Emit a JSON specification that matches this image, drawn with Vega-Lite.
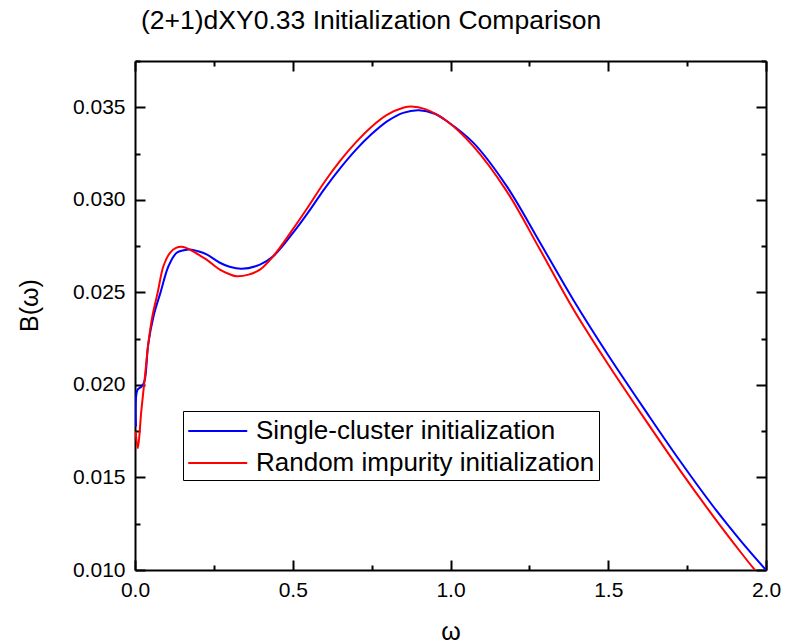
{
  "$schema": "https://vega.github.io/schema/vega-lite/v6.json",
  "width": 631,
  "height": 509,
  "autosize": {"type": "none"},
  "padding": {"left": 135, "top": 61, "right": 26, "bottom": 72},
  "background": "white",
  "config": {
    "view": {"stroke": null},
    "font": "Liberation Sans",
    "axis": {
      "domainColor": "black", "domainWidth": 2,
      "tickColor": "black", "tickWidth": 2,
      "labelColor": "black", "labelFont": "Liberation Sans", "labelFontSize": 21,
      "titleFont": "Liberation Sans", "titleFontSize": 25, "titleFontWeight": "normal", "titleColor": "black",
      "grid": false
    },
    "legend": {
      "orient": "none", "legendX": 48, "legendY": 350,
      "symbolType": "M-1,0H3", "symbolSize": 870, "symbolStrokeWidth": 2,
      "labelFont": "Liberation Sans", "labelFontSize": 26, "labelColor": "black", "labelLimit": 0,
      "strokeColor": "black", "fillColor": "white", "padding": 4, "labelOffset": 37, "rowPadding": 3
    }
  },
  "title": {
    "text": "(2+1)dXY0.33 Initialization Comparison",
    "font": "Liberation Sans", "fontSize": 26.5, "fontWeight": "normal", "color": "black",
    "anchor": "start", "frame": "group", "dx": 6, "baseline": "alphabetic", "offset": -5
  },
  "data": {"values": [
    {"series": "Single-cluster initialization", "w": 0.003, "B": 0.01775},
    {"series": "Single-cluster initialization", "w": 0.008, "B": 0.01974},
    {"series": "Single-cluster initialization", "w": 0.02, "B": 0.0199},
    {"series": "Single-cluster initialization", "w": 0.03, "B": 0.0202},
    {"series": "Single-cluster initialization", "w": 0.042, "B": 0.0222},
    {"series": "Single-cluster initialization", "w": 0.06, "B": 0.0238},
    {"series": "Single-cluster initialization", "w": 0.081, "B": 0.025},
    {"series": "Single-cluster initialization", "w": 0.106, "B": 0.02641},
    {"series": "Single-cluster initialization", "w": 0.132, "B": 0.02714},
    {"series": "Single-cluster initialization", "w": 0.155, "B": 0.02728},
    {"series": "Single-cluster initialization", "w": 0.174, "B": 0.02732},
    {"series": "Single-cluster initialization", "w": 0.2, "B": 0.02722},
    {"series": "Single-cluster initialization", "w": 0.227, "B": 0.02705},
    {"series": "Single-cluster initialization", "w": 0.269, "B": 0.0266},
    {"series": "Single-cluster initialization", "w": 0.3, "B": 0.02638},
    {"series": "Single-cluster initialization", "w": 0.338, "B": 0.02627},
    {"series": "Single-cluster initialization", "w": 0.396, "B": 0.0265},
    {"series": "Single-cluster initialization", "w": 0.438, "B": 0.02695},
    {"series": "Single-cluster initialization", "w": 0.5, "B": 0.0282},
    {"series": "Single-cluster initialization", "w": 0.55, "B": 0.02935},
    {"series": "Single-cluster initialization", "w": 0.6, "B": 0.03058},
    {"series": "Single-cluster initialization", "w": 0.65, "B": 0.0317},
    {"series": "Single-cluster initialization", "w": 0.7, "B": 0.0327},
    {"series": "Single-cluster initialization", "w": 0.75, "B": 0.03355},
    {"series": "Single-cluster initialization", "w": 0.8, "B": 0.03425},
    {"series": "Single-cluster initialization", "w": 0.85, "B": 0.0347},
    {"series": "Single-cluster initialization", "w": 0.9, "B": 0.03484},
    {"series": "Single-cluster initialization", "w": 0.95, "B": 0.03465},
    {"series": "Single-cluster initialization", "w": 0.988, "B": 0.03426},
    {"series": "Single-cluster initialization", "w": 1.072, "B": 0.03309},
    {"series": "Single-cluster initialization", "w": 1.178, "B": 0.03074},
    {"series": "Single-cluster initialization", "w": 1.284, "B": 0.02768},
    {"series": "Single-cluster initialization", "w": 1.389, "B": 0.0246},
    {"series": "Single-cluster initialization", "w": 1.5, "B": 0.0216},
    {"series": "Single-cluster initialization", "w": 1.622, "B": 0.0185},
    {"series": "Single-cluster initialization", "w": 1.727, "B": 0.0159},
    {"series": "Single-cluster initialization", "w": 1.833, "B": 0.01343},
    {"series": "Single-cluster initialization", "w": 1.918, "B": 0.01162},
    {"series": "Single-cluster initialization", "w": 2.0, "B": 0.01},
    {"series": "Random impurity initialization", "w": 0.002, "B": 0.01748},
    {"series": "Random impurity initialization", "w": 0.009, "B": 0.01658},
    {"series": "Random impurity initialization", "w": 0.02, "B": 0.0186},
    {"series": "Random impurity initialization", "w": 0.03, "B": 0.0202},
    {"series": "Random impurity initialization", "w": 0.042, "B": 0.0222},
    {"series": "Random impurity initialization", "w": 0.055, "B": 0.0237},
    {"series": "Random impurity initialization", "w": 0.072, "B": 0.025},
    {"series": "Random impurity initialization", "w": 0.09, "B": 0.02641},
    {"series": "Random impurity initialization", "w": 0.111, "B": 0.02714},
    {"series": "Random impurity initialization", "w": 0.13, "B": 0.0274},
    {"series": "Random impurity initialization", "w": 0.148, "B": 0.02746},
    {"series": "Random impurity initialization", "w": 0.175, "B": 0.0273},
    {"series": "Random impurity initialization", "w": 0.2, "B": 0.02705},
    {"series": "Random impurity initialization", "w": 0.227, "B": 0.02677},
    {"series": "Random impurity initialization", "w": 0.269, "B": 0.02623},
    {"series": "Random impurity initialization", "w": 0.3, "B": 0.02598},
    {"series": "Random impurity initialization", "w": 0.322, "B": 0.02587},
    {"series": "Random impurity initialization", "w": 0.36, "B": 0.02596},
    {"series": "Random impurity initialization", "w": 0.396, "B": 0.02623},
    {"series": "Random impurity initialization", "w": 0.438, "B": 0.02695},
    {"series": "Random impurity initialization", "w": 0.5, "B": 0.0284},
    {"series": "Random impurity initialization", "w": 0.55, "B": 0.02965},
    {"series": "Random impurity initialization", "w": 0.6, "B": 0.03095},
    {"series": "Random impurity initialization", "w": 0.65, "B": 0.0321},
    {"series": "Random impurity initialization", "w": 0.7, "B": 0.0331},
    {"series": "Random impurity initialization", "w": 0.75, "B": 0.03395},
    {"series": "Random impurity initialization", "w": 0.8, "B": 0.0346},
    {"series": "Random impurity initialization", "w": 0.85, "B": 0.03497},
    {"series": "Random impurity initialization", "w": 0.875, "B": 0.03504},
    {"series": "Random impurity initialization", "w": 0.92, "B": 0.0349},
    {"series": "Random impurity initialization", "w": 0.988, "B": 0.03426},
    {"series": "Random impurity initialization", "w": 1.072, "B": 0.0329},
    {"series": "Random impurity initialization", "w": 1.178, "B": 0.03047},
    {"series": "Random impurity initialization", "w": 1.284, "B": 0.0273},
    {"series": "Random impurity initialization", "w": 1.389, "B": 0.0241},
    {"series": "Random impurity initialization", "w": 1.5, "B": 0.0211},
    {"series": "Random impurity initialization", "w": 1.622, "B": 0.018},
    {"series": "Random impurity initialization", "w": 1.727, "B": 0.0154},
    {"series": "Random impurity initialization", "w": 1.833, "B": 0.0129},
    {"series": "Random impurity initialization", "w": 1.918, "B": 0.011},
    {"series": "Random impurity initialization", "w": 1.96, "B": 0.0101},
    {"series": "Random impurity initialization", "w": 2.0, "B": 0.0093}
  ]},
  "layer": [
    {
      "mark": {"type": "line", "clip": true, "strokeWidth": 2, "interpolate": "catmull-rom"},
      "encoding": {
        "x": {
          "field": "w", "type": "quantitative",
          "scale": {"domain": [0, 2], "nice": false, "zero": false},
          "axis": {
            "orient": "bottom", "title": "ω",
            "values": [0, 0.25, 0.5, 0.75, 1, 1.25, 1.5, 1.75, 2],
            "labelExpr": "abs(datum.value*2 - round(datum.value*2)) < 0.01 ? format(datum.value, '.1f') : ''",
            "labelFlush": false, "labelOverlap": false, "labelPadding": 19,
            "tickSize": {"condition": {"test": "abs(datum.value*2 - round(datum.value*2)) < 0.01", "value": -10}, "value": -5},
            "titleY": 69, "titleBaseline": "alphabetic"
          }
        },
        "y": {
          "field": "B", "type": "quantitative",
          "scale": {"domain": [0.01, 0.0375], "nice": false, "zero": false},
          "axis": {
            "orient": "left", "title": "B(ω)",
            "values": [0.01, 0.0125, 0.015, 0.0175, 0.02, 0.0225, 0.025, 0.0275, 0.03, 0.0325, 0.035, 0.0375],
            "labelExpr": "abs(datum.value*200 - round(datum.value*200)) < 0.01 ? format(datum.value, '.3f') : ''",
            "labelOverlap": false, "labelPadding": 20,
            "tickSize": {"condition": {"test": "abs(datum.value*200 - round(datum.value*200)) < 0.01", "value": -10}, "value": -5},
            "titleX": -93, "titleY": 244, "titleAngle": -90, "titleBaseline": "bottom", "titleAlign": "center"
          }
        },
        "color": {
          "field": "series", "type": "nominal",
          "scale": {"domain": ["Single-cluster initialization", "Random impurity initialization"], "range": ["#0000FF", "#FF0000"]},
          "legend": {"title": null}
        }
      }
    },
    {
      "mark": {"type": "line", "clip": true, "opacity": 0},
      "encoding": {
        "x": {
          "field": "w", "type": "quantitative",
          "scale": {"domain": [0, 2], "nice": false, "zero": false},
          "axis": {
            "orient": "top", "title": null, "labels": false,
            "values": [0, 0.25, 0.5, 0.75, 1, 1.25, 1.5, 1.75, 2],
            "tickSize": {"condition": {"test": "abs(datum.value*2 - round(datum.value*2)) < 0.01", "value": -10}, "value": -5}
          }
        },
        "y": {
          "field": "B", "type": "quantitative",
          "scale": {"domain": [0.01, 0.0375], "nice": false, "zero": false},
          "axis": {
            "orient": "right", "title": null, "labels": false,
            "values": [0.01, 0.0125, 0.015, 0.0175, 0.02, 0.0225, 0.025, 0.0275, 0.03, 0.0325, 0.035, 0.0375],
            "tickSize": {"condition": {"test": "abs(datum.value*200 - round(datum.value*200)) < 0.01", "value": -10}, "value": -5}
          }
        },
        "detail": {"field": "series", "type": "nominal"}
      }
    }
  ],
  "resolve": {"axis": {"x": "independent", "y": "independent"}}
}
